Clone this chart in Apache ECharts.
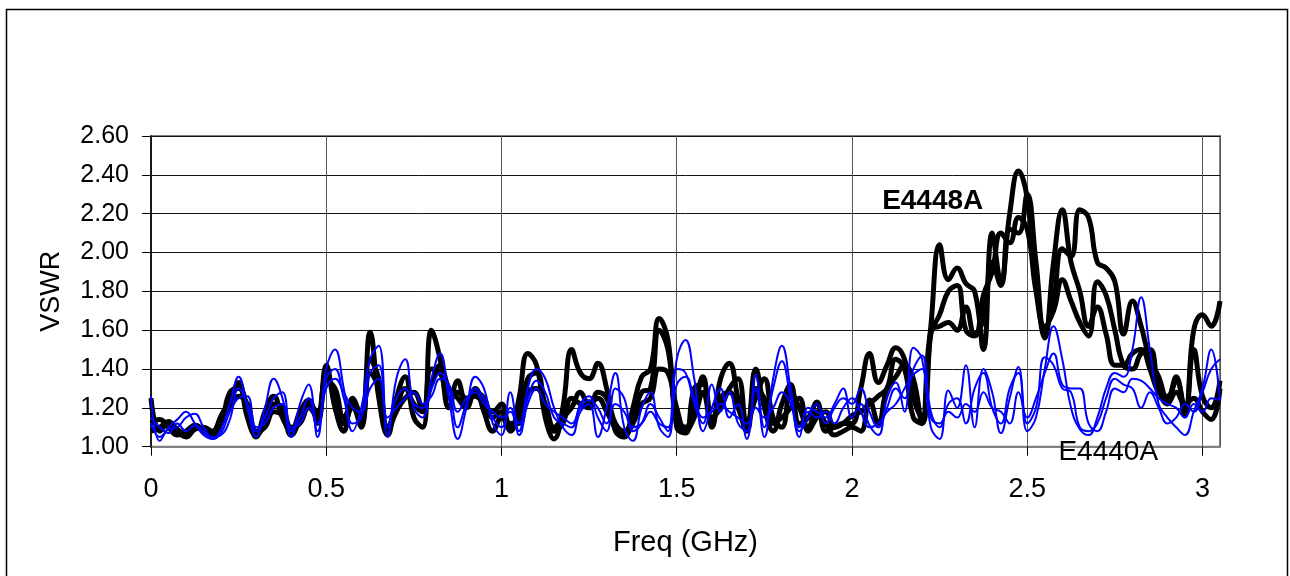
<!DOCTYPE html>
<html>
<head>
<meta charset="utf-8">
<script src="https://cdn.jsdelivr.net/npm/echarts@6/dist/echarts.min.js"></script>
<style>
html,body{margin:0;padding:0;background:#fff;}
#c{width:1290px;height:576px;}
</style>
</head>
<body>
<div id="c"></div>
<script>
const freq = [0,0.025,0.05,0.075,0.1,0.125,0.15,0.175,0.2,0.225,0.25,0.275,0.3,0.325,0.35,0.375,0.4,0.425,0.45,0.475,0.5,0.525,0.55,0.575,0.6,0.625,0.65,0.675,0.7,0.725,0.75,0.775,0.8,0.825,0.85,0.875,0.9,0.925,0.95,0.975,1,1.025,1.05,1.075,1.1,1.125,1.15,1.175,1.2,1.225,1.25,1.275,1.3,1.325,1.35,1.375,1.4,1.425,1.45,1.475,1.5,1.525,1.55,1.575,1.6,1.625,1.65,1.675,1.7,1.725,1.75,1.775,1.8,1.825,1.85,1.875,1.9,1.925,1.95,1.975,2,2.025,2.05,2.075,2.1,2.125,2.15,2.175,2.2,2.225,2.25,2.275,2.3,2.325,2.35,2.375,2.4,2.425,2.45,2.475,2.5,2.525,2.55,2.575,2.6,2.625,2.65,2.675,2.7,2.725,2.75,2.775,2.8,2.825,2.85,2.875,2.9,2.925,2.95,2.975,3,3.025,3.05];

// E4448A (black)
const e4448a_1 = [1.12,1.14,1.10,1.06,1.08,1.11,1.09,1.07,1.12,1.28,1.30,
1.20,1.05,1.18,1.26,1.15,1.08,1.18,1.24,1.12,1.42,
1.20,1.08,1.25,1.15,1.59,1.25,1.06,1.25,1.36,1.15,
1.10,1.60,1.45,1.20,1.34,1.22,1.30,1.18,1.08,1.15,
1.08,1.25,1.48,1.42,1.15,1.04,1.20,1.50,1.38,1.35,
1.43,1.30,1.08,1.05,1.20,1.36,1.40,1.66,1.55,1.10,
1.07,1.30,1.32,1.10,1.35,1.43,1.25,1.10,1.40,1.20,
1.08,1.22,1.32,1.12,1.15,1.23,1.08,1.10,1.12,1.12,
1.30,1.48,1.33,1.42,1.51,1.45,1.25,1.15,1.62,2.04,
1.86,1.92,1.84,1.80,1.50,2.10,1.85,2.20,2.42,2.28,
1.85,1.56,1.95,2.22,1.95,1.80,1.62,1.72,1.58,1.42,
1.42,1.48,1.50,1.40,1.28,1.26,1.34,1.18,1.60,1.68,1.62,1.75];
const e4448a_2 = [1.08,1.10,1.13,1.08,1.05,1.09,1.10,1.08,1.16,1.24,1.33,
1.15,1.06,1.12,1.22,1.20,1.10,1.12,1.20,1.15,1.38,
1.25,1.12,1.20,1.10,1.45,1.35,1.10,1.20,1.30,1.22,
1.18,1.40,1.38,1.25,1.28,1.25,1.26,1.22,1.18,1.22,
1.10,1.15,1.35,1.38,1.20,1.08,1.12,1.25,1.22,1.20,
1.28,1.25,1.12,1.08,1.15,1.28,1.30,1.60,1.50,1.15,
1.10,1.20,1.36,1.15,1.20,1.30,1.35,1.12,1.25,1.35,
1.15,1.10,1.28,1.20,1.10,1.18,1.12,1.06,1.08,1.10,
1.08,1.24,1.12,1.30,1.36,1.42,1.35,1.12,1.60,1.62,
1.64,1.60,1.72,1.58,1.66,1.95,1.83,2.12,2.10,2.30,
1.95,1.60,1.75,2.02,1.98,2.22,2.18,1.95,1.92,1.85,
1.58,1.75,1.62,1.45,1.36,1.24,1.36,1.16,1.50,1.26,1.20,1.34];
const e4448a_3 = [1.25,1.08,1.12,1.09,1.06,1.11,1.08,1.06,1.14,1.20,1.26,
1.22,1.08,1.10,1.18,1.16,1.06,1.14,1.22,1.18,1.34,
1.30,1.15,1.22,1.12,1.38,1.30,1.08,1.18,1.25,1.28,
1.20,1.32,1.42,1.30,1.25,1.20,1.28,1.25,1.15,1.18,
1.12,1.12,1.28,1.30,1.22,1.10,1.15,1.20,1.28,1.22,
1.25,1.18,1.10,1.06,1.12,1.22,1.25,1.40,1.38,1.20,
1.08,1.15,1.28,1.12,1.25,1.28,1.20,1.08,1.30,1.25,
1.12,1.15,1.20,1.25,1.08,1.15,1.18,1.10,1.12,1.16,
1.18,1.22,1.26,1.30,1.45,1.40,1.15,1.12,1.58,1.68,
1.80,1.83,1.60,1.57,1.78,1.90,2.10,2.05,2.18,2.12,
1.80,1.62,1.70,1.86,1.75,1.64,1.57,1.85,1.78,1.60,
1.42,1.40,1.48,1.50,1.30,1.22,1.28,1.22,1.25,1.18,1.14,1.30];

// E4440A (blue)
const e4440a_1 = [1.26,1.03,1.10,1.14,1.18,1.12,1.06,1.04,1.09,1.22,1.36,
1.20,1.05,1.20,1.35,1.25,1.05,1.22,1.32,1.05,1.40,
1.50,1.30,1.08,1.20,1.45,1.52,1.05,1.35,1.45,1.20,
1.15,1.35,1.48,1.25,1.04,1.20,1.36,1.30,1.12,1.06,
1.28,1.08,1.30,1.40,1.35,1.20,1.10,1.06,1.18,1.22,
1.05,1.20,1.38,1.10,1.03,1.20,1.28,1.10,1.05,1.45,
1.55,1.35,1.08,1.20,1.30,1.15,1.22,1.04,1.30,1.05,
1.35,1.52,1.30,1.05,1.20,1.18,1.15,1.22,1.30,1.15,
1.22,1.11,1.06,1.25,1.33,1.18,1.51,1.45,1.10,1.04,
1.29,1.20,1.42,1.10,1.40,1.28,1.07,1.25,1.41,1.08,
1.15,1.40,1.62,1.45,1.20,1.09,1.06,1.15,1.30,1.38,
1.36,1.50,1.77,1.50,1.22,1.15,1.10,1.06,1.18,1.30,1.50,1.24];
const e4440a_2 = [1.12,1.05,1.09,1.10,1.15,1.17,1.10,1.05,1.06,1.14,1.30,
1.22,1.08,1.15,1.25,1.28,1.08,1.15,1.25,1.08,1.35,
1.40,1.25,1.12,1.15,1.38,1.42,1.10,1.25,1.30,1.22,
1.20,1.30,1.38,1.30,1.10,1.22,1.30,1.25,1.15,1.10,
1.20,1.12,1.25,1.34,1.28,1.15,1.12,1.10,1.22,1.26,
1.15,1.08,1.30,1.25,1.08,1.12,1.22,1.15,1.08,1.40,
1.38,1.22,1.12,1.32,1.18,1.28,1.12,1.08,1.37,1.10,
1.30,1.44,1.25,1.08,1.15,1.22,1.12,1.20,1.25,1.22,
1.30,1.18,1.10,1.20,1.30,1.25,1.40,1.47,1.18,1.10,
1.22,1.25,1.12,1.30,1.38,1.20,1.12,1.30,1.38,1.12,
1.20,1.46,1.42,1.30,1.28,1.10,1.08,1.12,1.25,1.35,
1.32,1.30,1.20,1.28,1.20,1.12,1.15,1.22,1.18,1.28,1.40,1.45];
const e4440a_3 = [1.15,1.10,1.07,1.12,1.08,1.11,1.08,1.04,1.07,1.18,1.25,
1.26,1.10,1.12,1.20,1.22,1.10,1.12,1.20,1.12,1.30,
1.35,1.28,1.20,1.18,1.30,1.35,1.15,1.20,1.25,1.28,
1.22,1.26,1.35,1.32,1.18,1.25,1.28,1.22,1.18,1.15,
1.18,1.06,1.22,1.30,1.22,1.18,1.15,1.12,1.20,1.24,
1.20,1.12,1.22,1.18,1.10,1.12,1.18,1.12,1.10,1.32,
1.36,1.25,1.15,1.18,1.22,1.18,1.15,1.12,1.20,1.15,
1.20,1.28,1.22,1.10,1.18,1.15,1.18,1.12,1.20,1.25,
1.18,1.10,1.12,1.18,1.22,1.30,1.37,1.40,1.15,1.12,
1.18,1.15,1.22,1.18,1.28,1.20,1.18,1.12,1.28,1.15,
1.25,1.38,1.48,1.32,1.30,1.30,1.12,1.08,1.18,1.30,
1.28,1.35,1.34,1.30,1.25,1.22,1.20,1.15,1.22,1.18,1.25,1.24];

const xTickLabels = ['0','0.5','1','1.5','2','2.5','3'];
const yTickLabels = ['1.00','1.20','1.40','1.60','1.80','2.00','2.20','2.40','2.60'];
const annotations = [
  {text:'E4448A', f:2.086, v:2.263, bold:true},
  {text:'E4440A', f:2.589, v:0.972, bold:false}
];

const FONT = '"Liberation Sans", Arial, sans-serif';
const pairs = arr => freq.map((f,i)=>[f,arr[i]]);
const blackSeries = [e4448a_1,e4448a_2,e4448a_3];
const blueSeries = [e4440a_1,e4440a_2,e4440a_3];

const series = [];
blackSeries.forEach((s,k)=>series.push({
  name:'E4448A '+(k+1), type:'line', data:pairs(s), smooth:0.45, symbol:'none',
  lineStyle:{color:'#000', width:5}, z:2
}));
blueSeries.forEach((s,k)=>series.push({
  name:'E4440A '+(k+1), type:'line', data:pairs(s), smooth:0.45, symbol:'none',
  lineStyle:{color:'#0000ff', width:2}, z:3
}));

const chart = echarts.init(document.getElementById('c'), null, {renderer:'canvas'});
chart.setOption({
  animation:false,
  backgroundColor:'#fff',
  grid:{left:151, top:136, width:1069, height:310.7, show:true, borderColor:'#808080', borderWidth:2, backgroundColor:'transparent'},
  xAxis:{
    type:'value', min:0, max:3.05, interval:0.5,
    name:'Freq (GHz)', nameLocation:'middle', nameGap:82,
    nameTextStyle:{fontFamily:FONT, fontSize:29, color:'#000'},
    axisLine:{show:true, onZero:false, lineStyle:{color:'#808080', width:2}},
    axisTick:{show:true, length:9, lineStyle:{color:'#000', width:1}},
    axisLabel:{fontFamily:FONT, fontSize:27, color:'#000', margin:29, showMaxLabel:false,
      formatter:function(v){ const k=Math.round(v*2); if(Math.abs(v*2-k)>1e-6) return ''; return xTickLabels[k] || ''; }},
    splitLine:{show:true, lineStyle:{color:'#555', width:1}}
  },
  yAxis:{
    type:'value', min:1, max:2.6, interval:0.2,
    name:'VSWR', nameLocation:'middle', nameGap:86, nameRotate:90,
    nameTextStyle:{fontFamily:FONT, fontSize:27, color:'#000'},
    axisLine:{show:true, onZero:false, lineStyle:{color:'#000', width:1.5}},
    axisTick:{show:true, length:9, lineStyle:{color:'#000', width:1}},
    axisLabel:{fontFamily:FONT, fontSize:25, color:'#000', margin:22,
      formatter:function(v){ const k=Math.round((v-1)/0.2); return yTickLabels[k] || ''; }},
    splitLine:{show:true, lineStyle:{color:'#111', width:1}}
  },
  series:series
});

const g = [{
  type:'rect', shape:{x:6.5, y:9.5, width:1281, height:600}, style:{fill:'none', stroke:'#000', lineWidth:1.5}, silent:true, z:-1
}];
annotations.forEach(a=>{
  const p = chart.convertToPixel({gridIndex:0},[a.f,a.v]);
  g.push({type:'text', x:p[0], y:p[1], z:10, style:{text:a.text, fill:'#000', font:(a.bold?'bold ':'')+'28px '+FONT, textAlign:'left', textVerticalAlign:'middle'}});
});
chart.setOption({graphic:g});
</script>
</body>
</html>
